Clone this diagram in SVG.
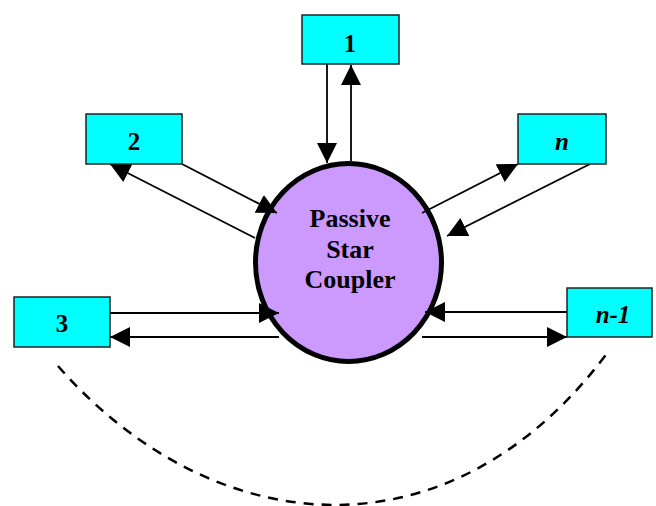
<svg xmlns="http://www.w3.org/2000/svg" width="656" height="506" viewBox="0 0 656 506">
<style>
.box{fill:#00FFFF;stroke:#222;stroke-width:1.5}
.lbl{font-family:"Liberation Serif","Times New Roman",serif;font-weight:bold;font-size:25px;text-anchor:middle;fill:#000}
.it{font-style:italic}
.con{stroke:#000;stroke-width:1.8;fill:none}
.arr{marker-end:url(#ah)}
</style>
<defs>
<marker id="ah" markerUnits="userSpaceOnUse" markerWidth="20" markerHeight="20" refX="20" refY="10" orient="auto" viewBox="0 0 20 20">
<path d="M0,0 L20,10 L0,20 z" fill="#000"/>
</marker>
</defs>
<rect width="656" height="506" fill="#fff"/>
<g id="coupler">
<ellipse cx="348.5" cy="262.5" rx="93" ry="99" fill="#CC99FF" stroke="#000" stroke-width="5"/>
<text class="lbl" x="350" y="227" style="font-size:26px">Passive</text>
<text class="lbl" x="350" y="258" style="font-size:26px">Star</text>
<text class="lbl" x="350" y="288" style="font-size:26px">Coupler</text>
</g>
<g id="connectors">
<line class="con arr" x1="327" y1="64" x2="327" y2="163"/>
<line class="con arr" x1="351" y1="161" x2="351" y2="65"/>
<line class="con arr" x1="182" y1="164" x2="277" y2="213"/>
<line class="con arr" x1="255" y1="238" x2="110" y2="164"/>
<line class="con arr" x1="422" y1="213" x2="518" y2="164"/>
<line class="con arr" x1="590" y1="164" x2="447" y2="236"/>
<line class="con arr" x1="110" y1="313" x2="279" y2="313"/>
<line class="con arr" x1="279" y1="337" x2="110" y2="337"/>
<line class="con arr" x1="567" y1="312" x2="425" y2="312"/>
<line class="con arr" x1="422" y1="337" x2="567" y2="337"/>
<path d="M58,366 C210,540 448,567 608,352" fill="none" stroke="#000" stroke-width="2.5" stroke-dasharray="10 8"/>
</g>
<g id="node1"><rect class="box" x="302" y="15" width="97" height="49"/><text class="lbl" x="350" y="52">1</text></g>
<g id="node2"><rect class="box" x="86" y="114" width="96" height="50"/><text class="lbl" x="134" y="150">2</text></g>
<g id="noden"><rect class="box" x="518" y="114" width="88" height="50"/><text class="lbl it" x="562" y="150">n</text></g>
<g id="node3"><rect class="box" x="14" y="297" width="96" height="50"/><text class="lbl" x="62" y="332">3</text></g>
<g id="noden1"><rect class="box" x="567" y="288" width="85" height="49"/><text class="lbl it" x="613" y="323">n-1</text></g>
</svg>
